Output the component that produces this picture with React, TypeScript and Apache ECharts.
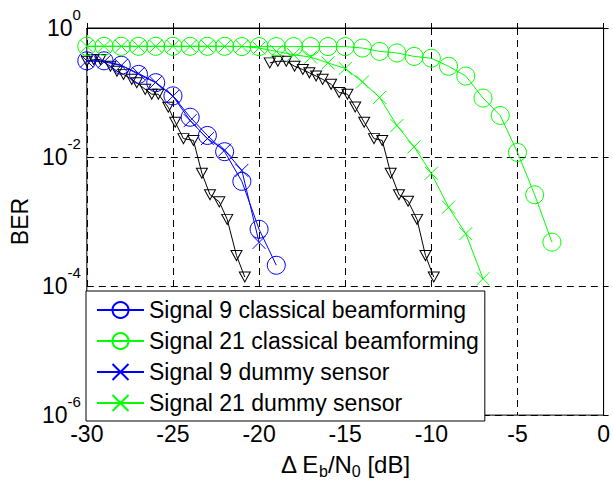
import React, { useEffect, useRef } from 'react';
import * as echarts from 'echarts';

// ---- axis ticks ----
const xMin = -30;
const xMax = 0;
const xStep = 5;
const yExpMin = -6;
const yExpMax = 0;
const yExpStep = 2;

// ---- series data (Delta Eb/N0 in dB, BER) ----
const sig9ClassicalDb = [-30, -29, -28, -27, -26, -25, -24, -23, -22, -21, -20, -19];
const sig9ClassicalBer = [0.31, 0.31, 0.265, 0.191, 0.142, 0.0887, 0.0414, 0.0216, 0.0121, 0.0042, 0.00076, 0.00021];

const sig21ClassicalDb = [-30, -29, -28, -27, -26, -25, -24, -23, -22, -21, -20, -19, -18, -17, -16, -15,
  -14, -13, -12, -11, -10, -9, -8, -7, -6, -5, -4, -3];
const sig21ClassicalBer = [0.52, 0.52, 0.52, 0.52, 0.52, 0.52, 0.52, 0.52, 0.52, 0.515, 0.515, 0.515, 0.515, 0.515, 0.515, 0.515,
  0.489, 0.434, 0.41, 0.363, 0.34, 0.255, 0.18, 0.082, 0.044, 0.0118, 0.0026, 0.00048];

const sig9DummyDb = [-30, -29, -28, -27, -26, -25, -24, -23, -22, -21, -20];
const sig9DummyBer = [0.31, 0.3, 0.262, 0.198, 0.144, 0.0878, 0.0367, 0.0193, 0.0128, 0.0062, 0.000475];

const sig21DummyDb = [-30, -29, -28, -27, -26, -25, -24, -23, -22, -21, -20, -19, -18, -17, -16, -15,
  -14, -13, -12, -11, -10, -9, -8, -7];
const sig21DummyBer = [0.52, 0.52, 0.52, 0.52, 0.52, 0.52, 0.52, 0.52, 0.52, 0.52, 0.49, 0.434, 0.386, 0.353, 0.288, 0.236,
  0.146, 0.0838, 0.0308, 0.0144, 0.0056, 0.00167, 0.00065, 0.00013];

const ref9Db = [-30, -29.6, -29.21, -28.63, -28.25, -27.87, -27.39, -27.1, -26.61, -26.23, -25.85, -25.27, -24.87,
  -24.39, -23.81, -23.32, -22.85, -22.31, -21.85, -21.31, -20.83];
const ref9Ber = [0.305, 0.324, 0.324, 0.255, 0.214, 0.191, 0.16, 0.142, 0.112, 0.0942, 0.0942, 0.059, 0.0347,
  0.0193, 0.0181, 0.0056, 0.00261, 0.00202, 0.00108, 0.000297, 0.000138];

const ref21Db = [-19.38, -18.91, -18.42, -17.94, -17.46, -17.08, -16.69, -16.31, -15.82, -15.35, -14.87, -14.42,
  -13.9, -13.33, -12.85, -12.36, -11.88, -11.35, -10.83, -10.34, -9.86];
const ref21Ber = [0.288, 0.305, 0.305, 0.255, 0.227, 0.202, 0.18, 0.16, 0.134, 0.1, 0.0942, 0.0596,
  0.0347, 0.0193, 0.0181, 0.0056, 0.00261, 0.00207, 0.00108, 0.000297, 0.000138];

const legendNames = [
  'Signal 9 classical beamforming',
  'Signal 21 classical beamforming',
  'Signal 9 dummy sensor',
  'Signal 21 dummy sensor',
];

const FONT = "'Liberation Sans', Arial, Helvetica, sans-serif";
const BLUE = '#0000ff';
const GREEN = '#00ff00';
const BLACK = '#000000';
const CROSS = 'path://M0,0L10,10M10,0L0,10';
const TRI_DOWN = 'path://M0,0L10,0L5,9Z';

const toPoints = (xs: number[], ys: number[]) => xs.map((x, i) => [x, Math.log10(ys[i])]);

function lineSeries(name: string, xs: number[], ys: number[], color: string, symbol: string, size: number | number[]) {
  return {
    type: 'line',
    name,
    data: toPoints(xs, ys),
    symbol,
    symbolSize: size,
    showSymbol: true,
    showAllSymbol: true,
    lineStyle: { color, width: 1 },
    itemStyle: { color: 'none', borderColor: color, borderWidth: 1 },
    emphasis: { disabled: true },
    silent: true,
  };
}

export default function App() {
  const ref = useRef<HTMLDivElement>(null);
  useEffect(() => {
    const chart = echarts.init(ref.current!, undefined, { renderer: 'svg' });
    const option = {
      animation: false,
      backgroundColor: '#ffffff',
      textStyle: { fontFamily: FONT },
      grid: {
        left: 86,
        right: 7,
        top: 28,
        bottom: 64,
        show: true,
        borderColor: BLACK,
        borderWidth: 1,
        backgroundColor: 'transparent',
      },
      legend: {
        orient: 'vertical',
        left: 86,
        top: 291,
        data: legendNames,
        itemWidth: 47,
        itemHeight: 20,
        itemGap: 7,
        padding: [7, 6, 6, 10],
        backgroundColor: '#ffffff',
        borderColor: BLACK,
        borderWidth: 1,
        borderRadius: 0,
        selectedMode: false,
        textStyle: { fontSize: 23, color: BLACK, fontFamily: FONT, lineHeight: 24 },
      },
      xAxis: {
        type: 'value',
        min: xMin,
        max: xMax,
        interval: xStep,
        name: '{n|Δ E}{sub|b}{n|/N}{sub|0}{n| [dB]}',
        nameLocation: 'middle',
        nameGap: 32,
        nameTextStyle: {
          color: BLACK,
          fontFamily: FONT,
          rich: {
            n: { fontSize: 24, lineHeight: 26, color: BLACK, fontFamily: FONT },
            sub: { fontSize: 16, lineHeight: 16, padding: [13, 0, 0, 0], color: BLACK, fontFamily: FONT },
          },
        },
        axisLine: { show: true, lineStyle: { color: BLACK, width: 1 } },
        axisTick: { show: true, inside: true, length: 5, lineStyle: { color: BLACK } },
        axisLabel: { fontSize: 23, color: BLACK, margin: 7, fontFamily: FONT },
        splitLine: { show: true, lineStyle: { color: BLACK, width: 1, type: [7, 5] } },
      },
      yAxis: {
        type: 'value',
        min: yExpMin,
        max: yExpMax,
        interval: yExpStep,
        name: 'BER',
        nameLocation: 'middle',
        nameGap: 55,
        nameTextStyle: { fontSize: 23, color: BLACK, fontFamily: FONT },
        axisLine: { show: true, lineStyle: { color: BLACK, width: 1 } },
        axisTick: { show: true, inside: true, length: 5, lineStyle: { color: BLACK } },
        axisLabel: {
          margin: 6,
          color: BLACK,
          fontFamily: FONT,
          formatter: (v: number) => `{b|10}{s|${v}}`,
          rich: {
            b: { fontSize: 23, lineHeight: 24, color: BLACK, fontFamily: FONT },
            s: { fontSize: 15, lineHeight: 15, padding: [0, 0, 27, 0], color: BLACK, fontFamily: FONT },
          },
        },
        splitLine: { show: true, lineStyle: { color: BLACK, width: 1, type: [7, 5] } },
      },
      series: [
        lineSeries('ref9', ref9Db, ref9Ber, BLACK, TRI_DOWN, [11, 10]),
        lineSeries('ref21', ref21Db, ref21Ber, BLACK, TRI_DOWN, [11, 10]),
        lineSeries(legendNames[0], sig9ClassicalDb, sig9ClassicalBer, BLUE, 'circle', 18),
        lineSeries(legendNames[1], sig21ClassicalDb, sig21ClassicalBer, GREEN, 'circle', 18),
        lineSeries(legendNames[2], sig9DummyDb, sig9DummyBer, BLUE, CROSS, 13),
        lineSeries(legendNames[3], sig21DummyDb, sig21DummyBer, GREEN, CROSS, 13),
      ],
    };
    chart.setOption(option as any);
    return () => chart.dispose();
  }, []);
  return (
    <div
      ref={ref}
      style={{ position: 'fixed', left: 0, top: 0, width: 613, height: 484, background: '#fff' }}
    />
  );
}
